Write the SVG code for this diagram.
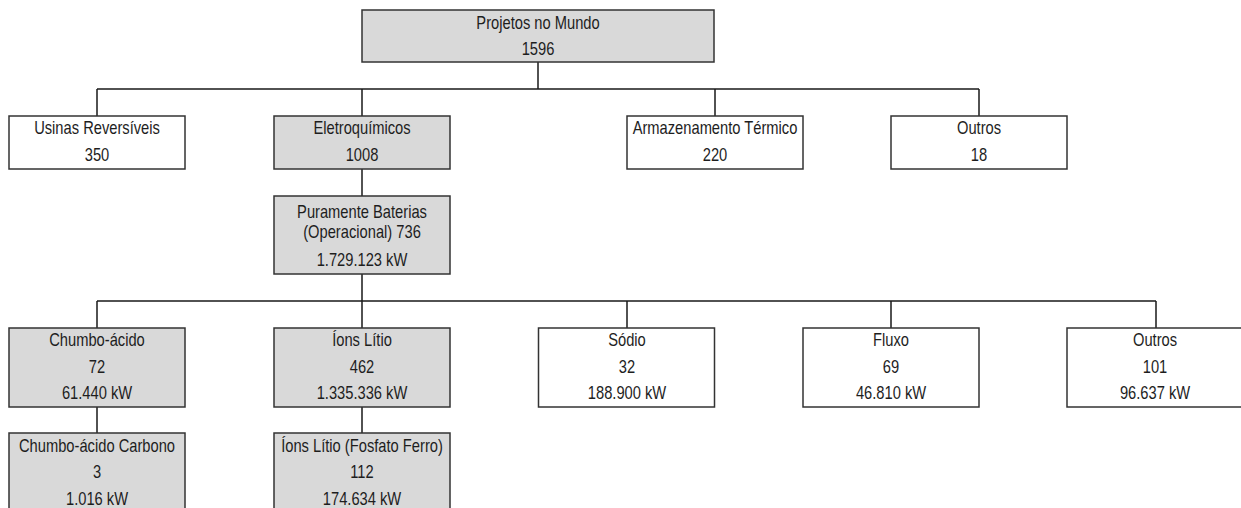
<svg xmlns="http://www.w3.org/2000/svg" width="1241" height="508" viewBox="0 0 1241 508">
<style>
.b{fill:#ffffff;stroke:#333333;stroke-width:1.5}
.g{fill:#d9d9d9;stroke:#333333;stroke-width:1.5}
.t{font-family:"Liberation Sans",Arial,sans-serif;font-size:14.7px;fill:#1e1e1e;text-anchor:middle}
.c{fill:none;stroke:#1a1a1a;stroke-width:1.5}
</style>
<rect width="1241" height="508" fill="#ffffff"/>
<g id="connectors">
<path class="c" d="M538,62V89M97,89H979M97,89V116M362,89V116M715,89V116M979,89V116"/>
<path class="c" d="M362,169V196"/>
<path class="c" d="M362,274V301M97,301H1156M97,301V328M362,301V328M627,301V328M891,301V328M1156,301V328"/>
<path class="c" d="M97,407V433M362,407V433"/>
</g>
<g id="root">
<rect class="g" x="362" y="10" width="352" height="52"/>
<text class="t" transform="translate(538,29.3) scale(1,1.28)">Projetos no Mundo</text>
<text class="t" transform="translate(538,55) scale(1,1.28)">1596</text>
</g>
<g id="usinas">
<rect class="b" x="9" y="116" width="176" height="53"/>
<text class="t" transform="translate(97,134.3) scale(1,1.28)">Usinas Reversíveis</text>
<text class="t" transform="translate(97,161) scale(1,1.28)">350</text>
</g>
<g id="eletro">
<rect class="g" x="274" y="116" width="176" height="53"/>
<text class="t" transform="translate(362,134.3) scale(1,1.28)">Eletroquímicos</text>
<text class="t" transform="translate(362,161) scale(1,1.28)">1008</text>
</g>
<g id="termico">
<rect class="b" x="627" y="116" width="176" height="53"/>
<text class="t" transform="translate(715,134.3) scale(1,1.28)">Armazenamento Térmico</text>
<text class="t" transform="translate(715,161) scale(1,1.28)">220</text>
</g>
<g id="outros1">
<rect class="b" x="891" y="116" width="176" height="53"/>
<text class="t" transform="translate(979,134.3) scale(1,1.28)">Outros</text>
<text class="t" transform="translate(979,161) scale(1,1.28)">18</text>
</g>
<g id="baterias">
<rect class="g" x="274" y="196" width="176" height="78"/>
<text class="t" transform="translate(362,217.7) scale(1,1.28)">Puramente Baterias</text>
<text class="t" transform="translate(362,237.7) scale(1,1.28)">(Operacional) 736</text>
<text class="t" transform="translate(362,266) scale(1,1.28)">1.729.123 kW</text>
</g>
<g id="chumbo">
<rect class="g" x="9" y="328" width="176" height="79"/>
<text class="t" transform="translate(97,346) scale(1,1.28)">Chumbo-ácido</text>
<text class="t" transform="translate(97,372.7) scale(1,1.28)">72</text>
<text class="t" transform="translate(97,399.3) scale(1,1.28)">61.440 kW</text>
</g>
<g id="litio">
<rect class="g" x="274" y="328" width="176" height="79"/>
<text class="t" transform="translate(362,346) scale(1,1.28)">Íons Lítio</text>
<text class="t" transform="translate(362,372.7) scale(1,1.28)">462</text>
<text class="t" transform="translate(362,399.3) scale(1,1.28)">1.335.336 kW</text>
</g>
<g id="sodio">
<rect class="b" x="538.5" y="328" width="176" height="79"/>
<text class="t" transform="translate(627,346) scale(1,1.28)">Sódio</text>
<text class="t" transform="translate(627,372.7) scale(1,1.28)">32</text>
<text class="t" transform="translate(627,399.3) scale(1,1.28)">188.900 kW</text>
</g>
<g id="fluxo">
<rect class="b" x="803" y="328" width="176" height="79"/>
<text class="t" transform="translate(891,346) scale(1,1.28)">Fluxo</text>
<text class="t" transform="translate(891,372.7) scale(1,1.28)">69</text>
<text class="t" transform="translate(891,399.3) scale(1,1.28)">46.810 kW</text>
</g>
<g id="outros2">
<rect class="b" x="1067" y="328" width="176" height="79"/>
<text class="t" transform="translate(1155,346) scale(1,1.28)">Outros</text>
<text class="t" transform="translate(1155,372.7) scale(1,1.28)">101</text>
<text class="t" transform="translate(1155,399.3) scale(1,1.28)">96.637 kW</text>
</g>
<g id="carbono">
<rect class="g" x="9" y="433" width="176" height="80"/>
<text class="t" transform="translate(97,451.7) scale(1,1.28)">Chumbo-ácido Carbono</text>
<text class="t" transform="translate(97,478.3) scale(1,1.28)">3</text>
<text class="t" transform="translate(97,505) scale(1,1.28)">1.016 kW</text>
</g>
<g id="fosfato">
<rect class="g" x="274" y="433" width="176" height="80"/>
<text class="t" transform="translate(362,451.7) scale(1,1.28)">Íons Lítio (Fosfato Ferro)</text>
<text class="t" transform="translate(362,478.3) scale(1,1.28)">112</text>
<text class="t" transform="translate(362,505) scale(1,1.28)">174.634 kW</text>
</g>
</svg>
